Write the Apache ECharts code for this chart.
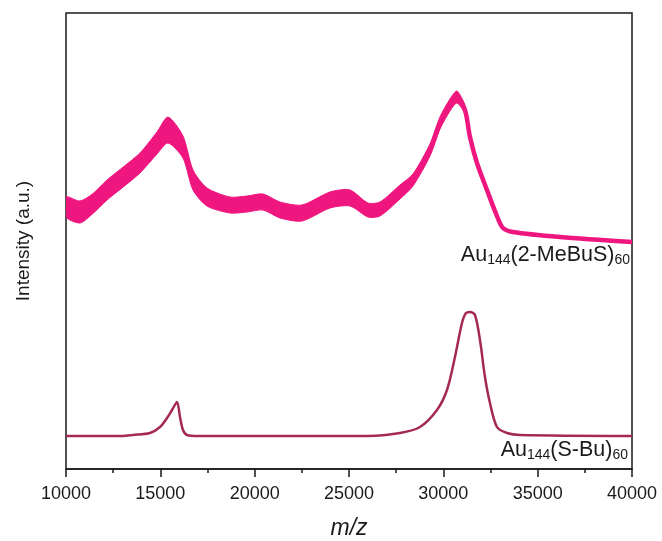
<!DOCTYPE html>
<html>
<head>
<meta charset="utf-8">
<script src="https://cdn.jsdelivr.net/npm/echarts@6/dist/echarts.min.js"></script>
<style>html,body{margin:0;padding:0;background:#fff}#c{width:662px;height:541px}</style>
</head>
<body>
<div id="c"></div>
<script>
// x tick labels (m/z)
var xTicks = [10000, 15000, 20000, 25000, 30000, 35000, 40000];

// Au144(2-MeBuS)60 : m/z, centre of the noisy trace, half-width of noise band
var pinkMz     = [10000, 10742, 11400, 12173, 13100, 13922, 14823, 15406, 16201, 16731, 17473, 18692, 19600, 20441, 21342, 22508, 23992, 25052, 26006, 26642, 27702, 28391, 29292, 29822, 30352, 30723, 31147, 31412, 31783, 32313, 32843, 33161, 33691, 36182, 40000];
var pinkCenter = [259, 254, 262, 276, 290, 303, 323, 336, 319, 286, 269, 261, 262, 264, 256, 253, 266, 268, 256, 257, 274, 286, 316, 343, 361, 369, 356, 329, 303, 276, 250, 238, 234, 229, 224];
var pinkSpread = [10, 11, 10, 10, 10, 10, 11, 13, 11, 10, 9, 8, 8, 8, 8, 8, 8, 8, 7, 7, 7, 6, 6, 6, 6, 6, 4, 3, 2, 1, 1, 1, 0.5, 0, 0];

// Au144(S-Bu)60
var redMz  = [10000, 13000, 13551, 14452, 14982, 15353, 15618, 15883, 16042, 16201, 16413, 17000, 26000, 27702, 28762, 29663, 30193, 30617, 30988, 31200, 31412, 31677, 31942, 32207, 32472, 32843, 33373, 34062, 40000];
var redVal = [30, 30, 31, 33, 39, 48, 56, 64, 49, 36, 31, 30, 30, 33, 39, 56, 76, 109, 143, 153, 154, 151, 126, 89, 63, 39, 33, 31, 30];

var seriesLabels = ['Au144(2-MeBuS)60', 'Au144(S-Bu)60'];

function zip(xs, ys) { return xs.map(function (x, i) { return [x, ys[i]]; }); }

var PINK = '#f0167f';
var RED = '#a42a55';
var FONT = 'Liberation Sans, Arial, sans-serif';

var labelRich = {
  m: {fontFamily: FONT, fontSize: 21.5, lineHeight: 24, fill: '#1a1a1a'},
  s: {fontFamily: FONT, fontSize: 14, lineHeight: 10, verticalAlign: 'bottom', fill: '#1a1a1a'}
};

var chart = echarts.init(document.getElementById('c'), null, {renderer: 'canvas'});
chart.setOption({
  animation: false,
  backgroundColor: '#ffffff',
  grid: {left: 66, right: 30, top: 13, bottom: 72, outerBoundsMode: 'none', containLabel: false,
    show: true, borderColor: '#1a1a1a', borderWidth: 1.5, backgroundColor: 'transparent'},
  xAxis: {
    type: 'value', min: 10000, max: 40000, interval: 5000,
    name: 'm/z', nameLocation: 'middle', nameGap: 48,
    nameTextStyle: {fontFamily: FONT, fontSize: 23, fontStyle: 'italic', color: '#1a1a1a'},
    axisLine: {show: true, onZero: false, lineStyle: {color: '#1a1a1a', width: 1.5}},
    axisTick: {show: true, inside: false, length: 8, lineStyle: {color: '#1a1a1a', width: 1.5}},
    minorTick: {show: true, splitNumber: 2, length: 4, lineStyle: {color: '#1a1a1a', width: 1.5}},
    axisLabel: {fontFamily: FONT, fontSize: 18, color: '#1a1a1a', margin: 16,
      formatter: function (v) { return xTicks.indexOf(v) >= 0 ? String(v) : ''; }},
    splitLine: {show: false}
  },
  yAxis: {
    type: 'value', min: -3, max: 453,
    name: 'Intensity (a.u.)', nameLocation: 'middle', nameGap: 33,
    nameTextStyle: {fontFamily: FONT, fontSize: 19, color: '#1a1a1a'},
    axisLine: {show: false, onZero: false}, axisTick: {show: false}, axisLabel: {show: false}, splitLine: {show: false}
  },
  series: [
    {type: 'custom', name: 'noise band', data: zip(pinkMz, pinkCenter), encode: {x: 0, y: 1}, silent: true, clip: true,
      renderItem: function (params, api) {
        if (params.dataIndex !== 0) return null;
        var pts = [], i;
        for (i = 0; i < pinkMz.length; i++) pts.push(api.coord([pinkMz[i], pinkCenter[i] + pinkSpread[i]]));
        for (i = pinkMz.length - 1; i >= 0; i--) pts.push(api.coord([pinkMz[i], pinkCenter[i] - pinkSpread[i]]));
        return {type: 'polygon', shape: {points: pts, smooth: 0.25}, style: {fill: PINK, stroke: PINK, lineWidth: 1}};
      }},
    {type: 'line', name: seriesLabels[0], data: zip(pinkMz, pinkCenter), smooth: 0.3, symbol: 'none',
      lineStyle: {color: PINK, width: 4.5}},
    {type: 'line', name: seriesLabels[1], data: zip(redMz, redVal), smooth: 0.3, symbol: 'none',
      lineStyle: {color: RED, width: 2.5}}
  ],
  graphic: [
    {type: 'text', x: 630, y: 255, style: {
      text: '{m|Au}{s|144}{m|(2-MeBuS)}{s|60}', align: 'right', verticalAlign: 'middle', rich: labelRich}},
    {type: 'text', x: 628, y: 450, style: {
      text: '{m|Au}{s|144}{m|(S-Bu)}{s|60}', align: 'right', verticalAlign: 'middle', rich: labelRich}}
  ]
});
</script>
</body>
</html>
